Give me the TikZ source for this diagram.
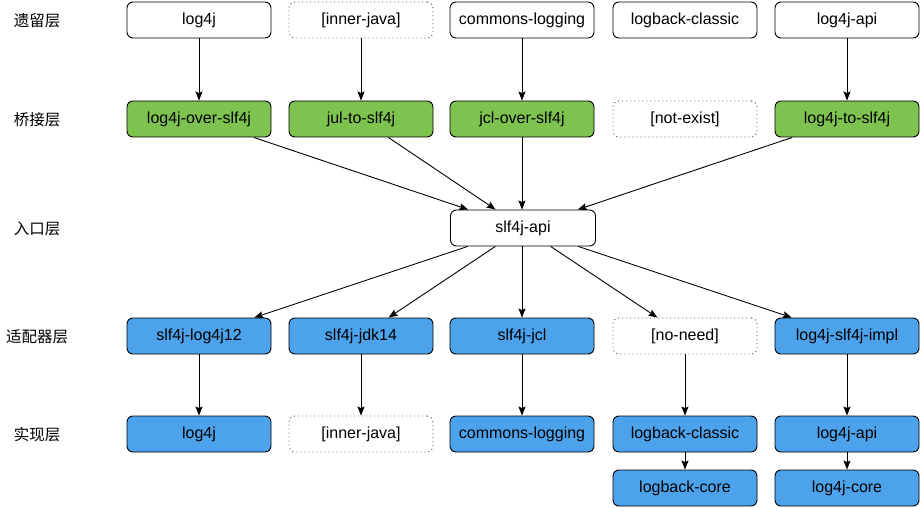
\documentclass[tikz,border=0pt]{standalone}
\usepackage{fontspec}
\setmainfont{Liberation Sans}
\newfontfamily\cjk{Noto Sans CJK SC}
\usetikzlibrary{arrows.meta}
\definecolor{bridgegreen}{RGB}{126,194,80}
\definecolor{implblue}{RGB}{76,162,235}
\definecolor{dotgray}{RGB}{90,90,90}
\tikzset{
  box/.style={draw=black, line width=0.9pt, rounded corners=6pt, minimum width=144pt, minimum height=36pt, inner sep=0pt, font=\fontsize{16}{18}\selectfont, fill=white},
  greenbox/.style={box, fill=bridgegreen},
  bluebox/.style={box, fill=implblue},
  ghostbox/.style={box, draw=dotgray, dash pattern=on 1pt off 3pt},
  layerlabel/.style={font=\cjk\fontsize{15.5}{17}\selectfont, inner sep=0pt},
  conn/.style={draw=black, line width=0.9pt, -{Stealth[length=9pt,width=7pt,inset=1.5pt]}}
}
\begin{document}
\begin{tikzpicture}[x=1pt,y=-1pt]
\useasboundingbox (0,0) rectangle (921,508);
% layer labels
\node[layerlabel] (lab1) at (37,21) {遗留层};
\node[layerlabel] (lab2) at (37,120) {桥接层};
\node[layerlabel] (lab3) at (37,229) {入口层};
\node[layerlabel] (lab4) at (37,337) {适配器层};
\node[layerlabel] (lab5) at (37,435) {实现层};
% legacy
\node[box] (a1) at (199,20) {log4j};
\node[ghostbox] (a2) at (361,20) {[inner-java]};
\node[box] (a3) at (522,20) {commons-logging};
\node[box] (a4) at (685,20) {logback-classic};
\node[box] (a5) at (847,20) {log4j-api};
% bridge
\node[greenbox] (b1) at (199,119) {log4j-over-slf4j};
\node[greenbox] (b2) at (361,119) {jul-to-slf4j};
\node[greenbox] (b3) at (522,119) {jcl-over-slf4j};
\node[ghostbox] (b4) at (685,119) {[not-exist]};
\node[greenbox] (b5) at (847,119) {log4j-to-slf4j};
% entry
\node[box, minimum width=145pt] (api) at (523,228) {slf4j-api};
% adapter
\node[bluebox] (c1) at (199,336) {slf4j-log4j12};
\node[bluebox] (c2) at (361,336) {slf4j-jdk14};
\node[bluebox] (c3) at (522,336) {slf4j-jcl};
\node[ghostbox] (c4) at (685,336) {[no-need]};
\node[bluebox] (c5) at (847,336) {log4j-slf4j-impl};
% impl
\node[bluebox] (d1) at (199,434) {log4j};
\node[ghostbox] (d2) at (361,434) {[inner-java]};
\node[bluebox] (d3) at (522,434) {commons-logging};
\node[bluebox] (d4) at (685,434) {logback-classic};
\node[bluebox] (d5) at (847,434) {log4j-api};
\node[bluebox] (e4) at (685,488) {logback-core};
\node[bluebox] (e5) at (847,488) {log4j-core};
% connectors
\draw[conn] (a1) -- (b1);
\draw[conn] (a2) -- (b2);
\draw[conn] (a3) -- (b3);
\draw[conn] (a5) -- (b5);
\draw[conn] (b1) -- (api);
\draw[conn] (b2) -- (api);
\draw[conn] (b3.south) -- (api.north -| b3.south);
\draw[conn] (b5) -- (api);
\draw[conn] (api) -- (c1);
\draw[conn] (api) -- (c2);
\draw[conn] (api.south -| c3.north) -- (c3.north);
\draw[conn] (api) -- (c4);
\draw[conn] (api) -- (c5);
\draw[conn] (c1) -- (d1);
\draw[conn] (c2) -- (d2);
\draw[conn] (c3) -- (d3);
\draw[conn] (c4) -- (d4);
\draw[conn] (c5) -- (d5);
\draw[conn] (d4) -- (e4);
\draw[conn] (d5) -- (e5);
\end{tikzpicture}
\end{document}
